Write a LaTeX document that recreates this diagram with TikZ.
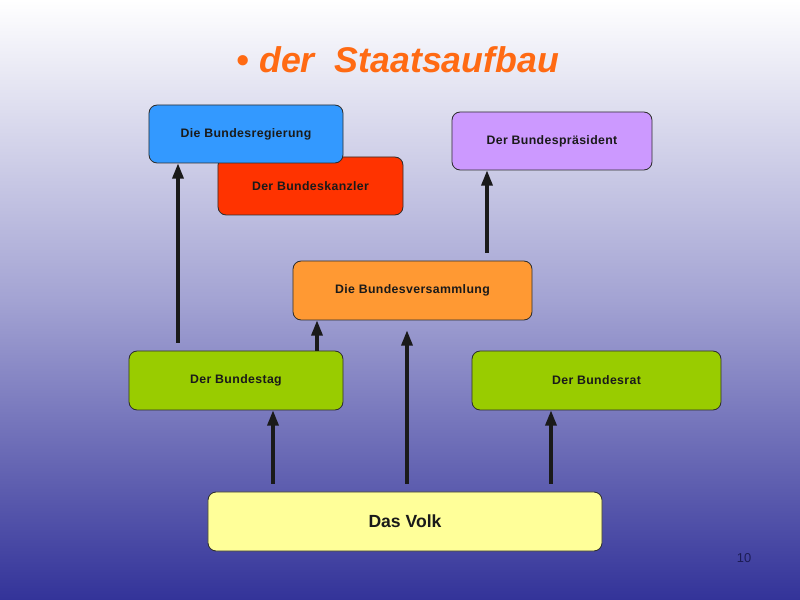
\documentclass[tikz,border=0pt]{standalone}
\usepackage{fontspec}
\setmainfont{Liberation Sans}
\usepackage{tikz}
\usetikzlibrary{arrows.meta,calc,positioning}
\definecolor{ink}{HTML}{1A1A1A}
\definecolor{frame}{HTML}{2E2E2E}
\definecolor{title}{HTML}{FF6A13}
\definecolor{bgtop}{HTML}{FFFFFF}
\definecolor{bgmid}{HTML}{A3A3D3}
\definecolor{bgbot}{HTML}{333399}
\definecolor{blue}{HTML}{3399FF}
\definecolor{red}{HTML}{FF3300}
\definecolor{lilac}{HTML}{CC99FF}
\definecolor{orange}{HTML}{FF9933}
\definecolor{green}{HTML}{99CC00}
\definecolor{yellow}{HTML}{FFFF99}
\definecolor{pagenum}{HTML}{1C1C55}

\tikzset{
  organ/.style={draw=frame,line width=0.7pt,rounded corners=7pt,align=center,
    font=\fontsize{10.5}{12}\selectfont\bfseries\addfontfeature{LetterSpace=3},text=ink},
  arr/.style={line width=2.6pt,ink,-{Triangle[width=9.5pt,length=13pt]}},
}

\begin{document}
\begin{tikzpicture}[x=0.03cm,y=-0.03cm]
        % background
        \shade[top color=bgtop,bottom color=bgbot,middle color=bgmid] (0,0) rectangle (800,600);
        \useasboundingbox (0,0) rectangle (800,600);
        \node[font=\fontsize{30.5}{34}\selectfont\bfseries\itshape,text=title] (ttl) at (398,60)
          {\textbullet\ der\ \ Staatsaufbau};
        % boxes
        \node[organ,fill=red,minimum width=5.55cm,minimum height=1.74cm] (kanzler) at (310.5,186)
          {Der Bundeskanzler};
        \node[organ,fill=blue,minimum width=5.82cm,minimum height=1.74cm] (regierung) at (246,134)
          {Die Bundesregierung};
        \node[organ,fill=lilac,minimum width=6.0cm,minimum height=1.74cm] (praesident) at (552,141)
          {Der Bundespräsident};
        \node[organ,fill=orange,minimum width=7.17cm,minimum height=1.77cm] (versammlung) at (412.5,290.5)
          {Die Bundesversammlung};
        \node[organ,fill=green,minimum width=6.42cm,minimum height=1.77cm] (bundestag) at (236,380.5)
          {Der Bundestag};
        \node[organ,fill=green,minimum width=7.47cm,minimum height=1.77cm] (bundesrat) at (596.5,380.5)
          {Der Bundesrat};
        \node[organ,fill=yellow,minimum width=11.82cm,minimum height=1.77cm,
          font=\fontsize{15}{18}\selectfont\bfseries] (volk) at (405,521.5) {Das Volk};
        % arrows
        \draw[arr,shorten <=8*0.03cm] (bundestag.north -| 178,0) -- (regierung.south -| 178,0);
        \draw[arr] (bundestag.north -| 317,0) -- (versammlung.south -| 317,0);
        \draw[arr,shorten <=8*0.03cm] (versammlung.north -| 487,0) -- (praesident.south -| 487,0);
        \draw[arr,shorten <=8*0.03cm,shorten >=10*0.03cm] (volk.north -| 407,0) -- (versammlung.south -| 407,0);
        \draw[arr,shorten <=8*0.03cm] (volk.north -| 273,0) -- (bundestag.south -| 273,0);
        \draw[arr,shorten <=8*0.03cm] (volk.north -| 551,0) -- (bundesrat.south -| 551,0);
        \node[font=\fontsize{11}{13}\selectfont,text=pagenum] (page) at (744,558) {10};
      \end{tikzpicture}
\end{document}
